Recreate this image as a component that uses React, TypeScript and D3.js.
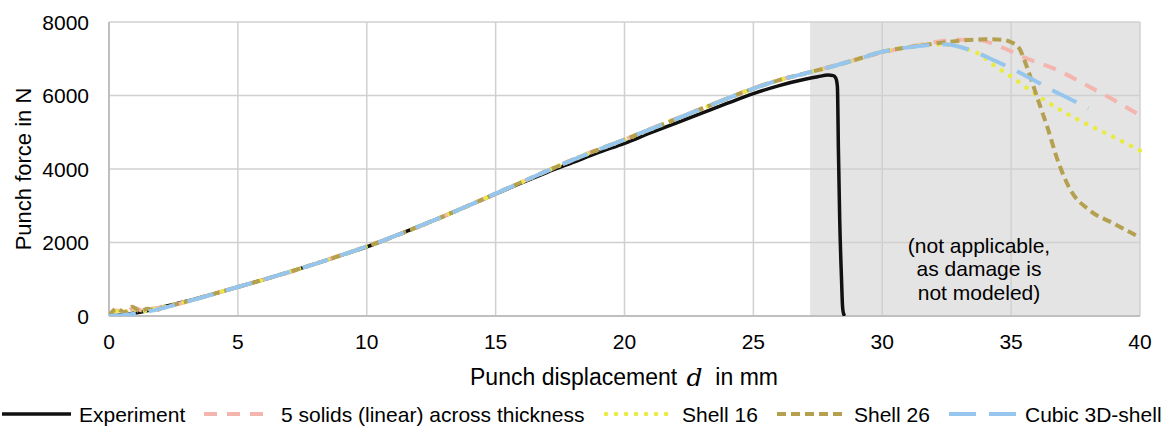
import React from 'react';
import * as d3 from 'd3';

type Pt = [number, number];

const xTicks = [0, 5, 10, 15, 20, 25, 30, 35, 40];
const yTicks = [0, 2000, 4000, 6000, 8000];
const shadeStart = 27.2;
const noteLines = ['(not applicable,', 'as damage is', 'not modeled)'];

const experiment: Pt[] = [
  [0, 0], [1, 80], [2, 230], [3, 400], [4, 590], [5, 790], [6, 990], [7, 1200], [8, 1420], [9, 1650],
  [10, 1880], [11, 2150], [12, 2430], [13, 2720], [14, 3020], [15, 3320], [16, 3620], [17, 3910],
  [18, 4180], [19, 4450], [20, 4700], [21, 4980], [22, 5250], [23, 5520], [24, 5790], [25, 6050],
  [26, 6270], [27, 6440], [27.5, 6510], [27.9, 6555], [28.1, 6540], [28.2, 6470], [28.26, 6240],
  [28.3, 4500], [28.35, 2610], [28.42, 1000], [28.46, 250], [28.5, 60], [28.55, 0],
];

const solids5: Pt[] = [
  [0, 0], [0.3, 150], [0.6, 120], [1.0, 220], [1.3, 150], [1.6, 190], [2, 230], [3, 390], [4, 590],
  [5, 790], [6, 990], [7, 1190], [8, 1420], [9, 1660], [10, 1900], [11, 2150], [12, 2420], [13, 2720],
  [14, 3020], [15, 3330], [16, 3640], [17, 3950], [18, 4260], [19, 4540], [20, 4800], [21, 5090],
  [22, 5370], [23, 5650], [24, 5930], [25, 6200], [26, 6420], [27, 6600], [28, 6790], [29, 6980],
  [30, 7170], [31, 7320], [32, 7450], [33, 7520], [33.8, 7500], [34.4, 7380], [35, 7200], [35.6, 7010],
  [36.8, 6690], [38, 6250], [39, 5870], [40, 5460],
];

const shell16: Pt[] = [
  [0, 0], [0.2, 140], [0.5, 80], [0.9, 200], [1.2, 120], [1.6, 170], [2, 230], [3, 390], [4, 590],
  [5, 790], [6, 990], [7, 1200], [8, 1420], [9, 1650], [10, 1890], [11, 2150], [12, 2430], [13, 2720],
  [14, 3020], [15, 3330], [16, 3640], [17, 3950], [18, 4250], [19, 4530], [20, 4800], [21, 5080],
  [22, 5360], [23, 5640], [24, 5920], [25, 6190], [26, 6420], [27, 6600], [28, 6780], [29, 6980],
  [30, 7190], [31, 7320], [32, 7390], [32.6, 7380], [33.2, 7280], [33.7, 7150], [34.4, 6790],
  [35.1, 6470], [35.9, 6060], [36.9, 5610], [38, 5200], [39, 4860], [40, 4500],
];

const shell26: Pt[] = [
  [0, 0], [0.3, 200], [0.6, 100], [0.9, 250], [1.2, 130], [1.5, 200], [1.8, 150], [2, 200], [3, 390],
  [4, 590], [5, 790], [6, 990], [7, 1200], [8, 1420], [9, 1650], [10, 1890], [11, 2150], [12, 2430],
  [13, 2720], [14, 3020], [15, 3330], [16, 3640], [17, 3950], [18, 4250], [19, 4530], [20, 4800],
  [21, 5080], [22, 5360], [23, 5640], [24, 5920], [25, 6190], [26, 6420], [27, 6600], [28, 6780],
  [29, 6980], [30, 7190], [31, 7310], [32, 7410], [33, 7490], [34, 7530], [34.6, 7520], [35, 7450],
  [35.3, 7300], [35.6, 6800], [36, 5970], [36.4, 5150], [36.8, 4250], [37.3, 3430], [38, 2900],
  [39, 2510], [40, 2140],
];

const cubic3D: Pt[] = [
  [0, 0], [0.5, 20], [1, 60], [1.5, 120], [2, 200], [2.5, 290], [3, 385], [4, 585], [5, 790],
  [6, 990], [7, 1200], [8, 1420], [9, 1650], [10, 1890], [11, 2150], [12, 2430], [13, 2720],
  [14, 3020], [15, 3330], [16, 3640], [17, 3950], [18, 4250], [19, 4530], [20, 4800], [21, 5080],
  [22, 5360], [23, 5640], [24, 5920], [25, 6190], [26, 6420], [27, 6600], [28, 6780], [29, 6980],
  [30, 7190], [31, 7310], [32, 7380], [32.5, 7390], [33.4, 7240], [34.2, 7000], [35, 6740],
  [35.8, 6450], [36.5, 6180], [37.3, 5900], [38, 5650],
];

const seriesNames = ['Experiment', '5 solids (linear) across thickness', 'Shell 16', 'Shell 26', 'Cubic 3D-shell'];
const seriesData = [experiment, solids5, shell16, shell26, cubic3D];

const styles = [
  { color: '#111111', width: 3.5, dash: undefined as string | undefined, cap: 'butt' },
  { color: '#f4b5ae', width: 4, dash: '13 10', cap: 'butt' },
  { color: '#e8ec42', width: 4.5, dash: '0.1 9.9', cap: 'round' },
  { color: '#b4a04e', width: 4, dash: '9 5', cap: 'butt' },
  { color: '#96c6ee', width: 4, dash: '27 13', cap: 'butt' },
];

const legendLineX = [[2, 71], [204, 273], [606, 674], [777, 846], [949, 1017]];
const legendTextX = [79, 281, 682, 854, 1025];

const FONT = 'Liberation Sans, Arial, sans-serif';

export default function App() {
  const x = d3.scaleLinear().domain([0, 40]).range([109, 1140]);
  const y = d3.scaleLinear().domain([0, 8000]).range([316, 22]);
  const line = d3
    .line<Pt>()
    .x((d) => x(d[0]))
    .y((d) => y(d[1]))
    .curve(d3.curveMonotoneX);

  const fs = 21;
  return (
    <svg
      width={1170}
      height={428}
      style={{ position: 'absolute', left: 0, top: 0, background: '#fff' }}
      fontFamily={FONT}
    >
      <defs>
        <clipPath id="plot">
          <rect x={x(0)} y={y(8000) - 5} width={x(40) - x(0) + 5} height={y(0) - y(8000) + 5} />
        </clipPath>
      </defs>
      <rect
        x={x(shadeStart)}
        y={y(8000)}
        width={x(40) - x(shadeStart)}
        height={y(0) - y(8000)}
        fill="#e4e4e4"
      />
      {xTicks.map((t) => (
        <line key={'gx' + t} x1={x(t)} x2={x(t)} y1={y(0)} y2={y(8000)} stroke="#d0d0d0" strokeWidth={1.5} />
      ))}
      {yTicks.map((t) => (
        <line key={'gy' + t} x1={x(0)} x2={x(40)} y1={y(t)} y2={y(t)} stroke="#d0d0d0" strokeWidth={1.5} />
      ))}
      <line x1={x(0)} x2={x(0)} y1={y(0)} y2={y(8000)} stroke="#bfbfbf" strokeWidth={2} />
      <line x1={x(0)} x2={x(40)} y1={y(0)} y2={y(0)} stroke="#bfbfbf" strokeWidth={2} />

      {yTicks.map((t) => (
        <text key={'ty' + t} x={89} y={y(t)} textAnchor="end" dominantBaseline="central" fontSize={fs} fill="#000">
          {t}
        </text>
      ))}
      {xTicks.map((t) => (
        <text key={'tx' + t} x={x(t)} y={341} textAnchor="middle" dominantBaseline="central" fontSize={fs} fill="#000">
          {t}
        </text>
      ))}

      {noteLines.map((s, i) => (
        <text key={'n' + i} x={979} y={245 + i * 23.5} textAnchor="middle" dominantBaseline="central" fontSize={fs} fill="#000">
          {s}
        </text>
      ))}

      <g clipPath="url(#plot)">
        {seriesData.map((d, i) => (
          <path
            key={'s' + i}
            d={line(d) || ''}
            fill="none"
            stroke={styles[i].color}
            strokeWidth={styles[i].width}
            strokeDasharray={styles[i].dash}
            strokeLinecap={styles[i].cap as any}
            strokeLinejoin="round"
          />
        ))}
      </g>

      <text
        transform={`translate(23,${(y(0) + y(8000)) / 2}) rotate(-90)`}
        textAnchor="middle"
        dominantBaseline="central"
        fontSize={22}
        fill="#000"
      >
        Punch force in N
      </text>
      <text x={624} y={377} textAnchor="middle" dominantBaseline="central" fontSize={23} fill="#000">
        <tspan>{'Punch displacement\u00a0'}</tspan>
        <tspan dx={3} fontFamily="DejaVu Serif, Liberation Serif, serif" fontStyle="italic" fontSize={25}>d</tspan>
        <tspan>{'\u00a0\u00a0in mm'}</tspan>
      </text>

      {seriesNames.map((n, i) => (
        <g key={'lg' + i}>
          <line
            x1={legendLineX[i][0]}
            x2={legendLineX[i][1]}
            y1={414}
            y2={414}
            stroke={styles[i].color}
            strokeWidth={styles[i].width}
            strokeDasharray={styles[i].dash}
            strokeLinecap={styles[i].cap as any}
          />
          <text x={legendTextX[i]} y={414} dominantBaseline="central" fontSize={fs} fill="#000">
            {n}
          </text>
        </g>
      ))}
    </svg>
  );
}
